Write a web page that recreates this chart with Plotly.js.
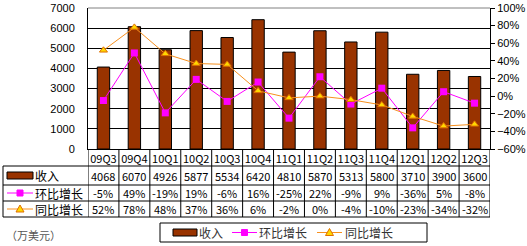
<!DOCTYPE html>
<html>
<head>
<meta charset="utf-8">
<script src="https://cdn.plot.ly/plotly-3.0.1.min.js"></script>
<style>html,body{margin:0;padding:0;background:#fff;}#chart{width:527px;height:246px;}</style>
</head>
<body>
<div id="chart"></div>
<script>
const categories = ['09Q3','09Q4','10Q1','10Q2','10Q3','10Q4','11Q1','11Q2','11Q3','11Q4','12Q1','12Q2','12Q3'];
const revenue = [4068, 6070, 4926, 5877, 5534, 6420, 4810, 5870, 5313, 5800, 3710, 3900, 3600];
const qoqPct = [-5, 49, -19, 19, -6, 16, -25, 22, -9, 9, -36, 5, -8];
const yoyPct = [52, 78, 48, 37, 36, 6, -2, 0, -4, -10, -23, -34, -32];
const seriesNames = ['收入', '环比增长', '同比增长'];
const unitLabel = '（万美元）';

const W = 527, H = 246;
const M = {l: 88, r: 37, t: 8, b: 97};
const PW = W - M.l - M.r, PH = H - M.t - M.b;
const px = p => (p - M.l) / PW;
const py = p => (H - M.b - p) / PH;

const BROWN = '#993300', MAG = '#FF00FF', ORANGE = '#F7901E', YELLOW = '#FFD800';
const FONT = 'Noto Sans CJK SC, Liberation Sans, sans-serif';
const NUMFONT = 'Liberation Sans, Arial, sans-serif';

const traces = [
  {type: 'bar', x: categories, y: revenue, name: seriesNames[0], yaxis: 'y',
   width: 0.4, marker: {color: BROWN, line: {color: '#000', width: 1}}},
  {type: 'scatter', mode: 'lines+markers', x: categories, y: qoqPct, name: seriesNames[1], yaxis: 'y2',
   line: {color: MAG, width: 1}, marker: {symbol: 'square', size: 7, color: MAG}},
  {type: 'scatter', mode: 'lines+markers', x: categories, y: yoyPct, name: seriesNames[2], yaxis: 'y2',
   line: {color: ORANGE, width: 1}, marker: {symbol: 'triangle-up', size: 7, color: YELLOW, line: {color: '#E07000', width: 1}}}
];

const rowLines = [166, 185, 201, 217];
const rowCenters = [175.5, 193, 209];
const shapes = [];
const ann = [];
// top border
shapes.push({type: 'line', xref: 'paper', yref: 'paper', x0: 0, x1: 1, y0: 1, y1: 1, line: {color: '#808080', width: 1}});
// table horizontal lines
rowLines.forEach(y => shapes.push({type: 'line', xref: 'paper', yref: 'paper', x0: px(3), x1: 1, y0: py(y), y1: py(y), line: {color: '#000', width: 1}}));
// left border of label column
shapes.push({type: 'line', xref: 'paper', yref: 'paper', x0: px(3), x1: px(3), y0: py(166), y1: py(217), line: {color: '#000', width: 1}});
// category column boundaries
for (let i = 0; i <= categories.length; i++) {
  shapes.push({type: 'line', xref: 'x', yref: 'paper', x0: i - 0.5, x1: i - 0.5, y0: 0, y1: py(217), line: {color: '#000', width: 1}});
}
// table values
const rows = [revenue.map(v => String(v)), qoqPct.map(v => v + '%'), yoyPct.map(v => v + '%')];
rows.forEach((r, ri) => r.forEach((t, ci) => ann.push({
  xref: 'x', yref: 'paper', x: categories[ci], y: py(rowCenters[ri]), text: t, showarrow: false,
  font: {size: 11, color: '#000', family: FONT}, xanchor: 'center', yanchor: 'middle'
})));

function symbolShapes(x0, x1, yc, kind) {
  const xc = (x0 + x1) / 2;
  if (kind === 0) {
    shapes.push({type: 'rect', xref: 'paper', yref: 'paper', x0: px(x0), x1: px(x1), y0: py(yc - 3.5), y1: py(yc + 3.5), fillcolor: BROWN, line: {color: '#000', width: 1}});
  } else if (kind === 1) {
    shapes.push({type: 'line', xref: 'paper', yref: 'paper', x0: px(x0), x1: px(x1), y0: py(yc), y1: py(yc), line: {color: MAG, width: 1}});
    shapes.push({type: 'rect', xref: 'paper', yref: 'paper', x0: px(xc - 3), x1: px(xc + 3), y0: py(yc - 3), y1: py(yc + 3), fillcolor: MAG, line: {color: MAG, width: 1}});
  } else {
    shapes.push({type: 'line', xref: 'paper', yref: 'paper', x0: px(x0), x1: px(x1), y0: py(yc), y1: py(yc), line: {color: ORANGE, width: 1}});
    const p = `M${px(xc - 4)},${py(yc + 3)} L${px(xc + 4)},${py(yc + 3)} L${px(xc)},${py(yc - 4)} Z`;
    shapes.push({type: 'path', xref: 'paper', yref: 'paper', path: p, fillcolor: YELLOW, line: {color: '#E07000', width: 1}});
  }
}
// label column
rowCenters.forEach((yc, i) => {
  symbolShapes(7, 33, yc, i);
  ann.push({xref: 'paper', yref: 'paper', x: px(33), y: py(yc), text: seriesNames[i], showarrow: false,
    xanchor: 'left', yanchor: 'middle', font: {size: 12, color: '#000', family: FONT}});
});
// legend
shapes.push({type: 'rect', xref: 'paper', yref: 'paper', x0: px(160), x1: px(427), y0: py(223), y1: py(242), line: {color: '#000', width: 1}, fillcolor: 'rgba(0,0,0,0)'});
const legItems = [[173, 197, 197], [232, 257, 257], [317, 342, 343]];
legItems.forEach((it, i) => {
  symbolShapes(it[0], it[1], 232.5, i);
  ann.push({xref: 'paper', yref: 'paper', x: px(it[2]), y: py(232.5), text: seriesNames[i], showarrow: false,
    xanchor: 'left', yanchor: 'middle', font: {size: 12, color: '#333', family: FONT}});
});
ann.push({xref: 'paper', yref: 'paper', x: px(4), y: py(235), text: unitLabel, showarrow: false,
  xanchor: 'left', yanchor: 'middle', font: {size: 11, color: '#555', family: FONT}});

const layout = {
  width: W, height: H, margin: M, paper_bgcolor: '#fff', plot_bgcolor: '#fff', showlegend: false,
  font: {family: FONT, size: 11, color: '#000'},
  xaxis: {type: 'category', range: [-0.5, categories.length - 0.5], showline: true, linecolor: '#000', linewidth: 1,
    ticks: '', showgrid: false, tickfont: {size: 11}, fixedrange: true},
  yaxis: {range: [0, 7000], dtick: 1000, showgrid: true, gridcolor: '#000', gridwidth: 1, showline: true,
    linecolor: '#000', ticks: '', ticklabelstandoff: 10, zeroline: false, tickfont: {size: 11, family: NUMFONT}, ticklabeloverflow: 'allow'},
  yaxis2: {overlaying: 'y', side: 'right', range: [-60, 100], dtick: 20, ticksuffix: '%', ticks: 'outside',
    ticklen: 4, tickcolor: '#000', showline: true, linecolor: '#000', showgrid: false, zeroline: false, tickfont: {size: 11, family: NUMFONT}, ticklabeloverflow: 'allow'},
  bargap: 0.6,
  shapes: shapes, annotations: ann
};
Plotly.newPlot('chart', traces, layout, {staticPlot: true, displayModeBar: false});
</script>
</body>
</html>
